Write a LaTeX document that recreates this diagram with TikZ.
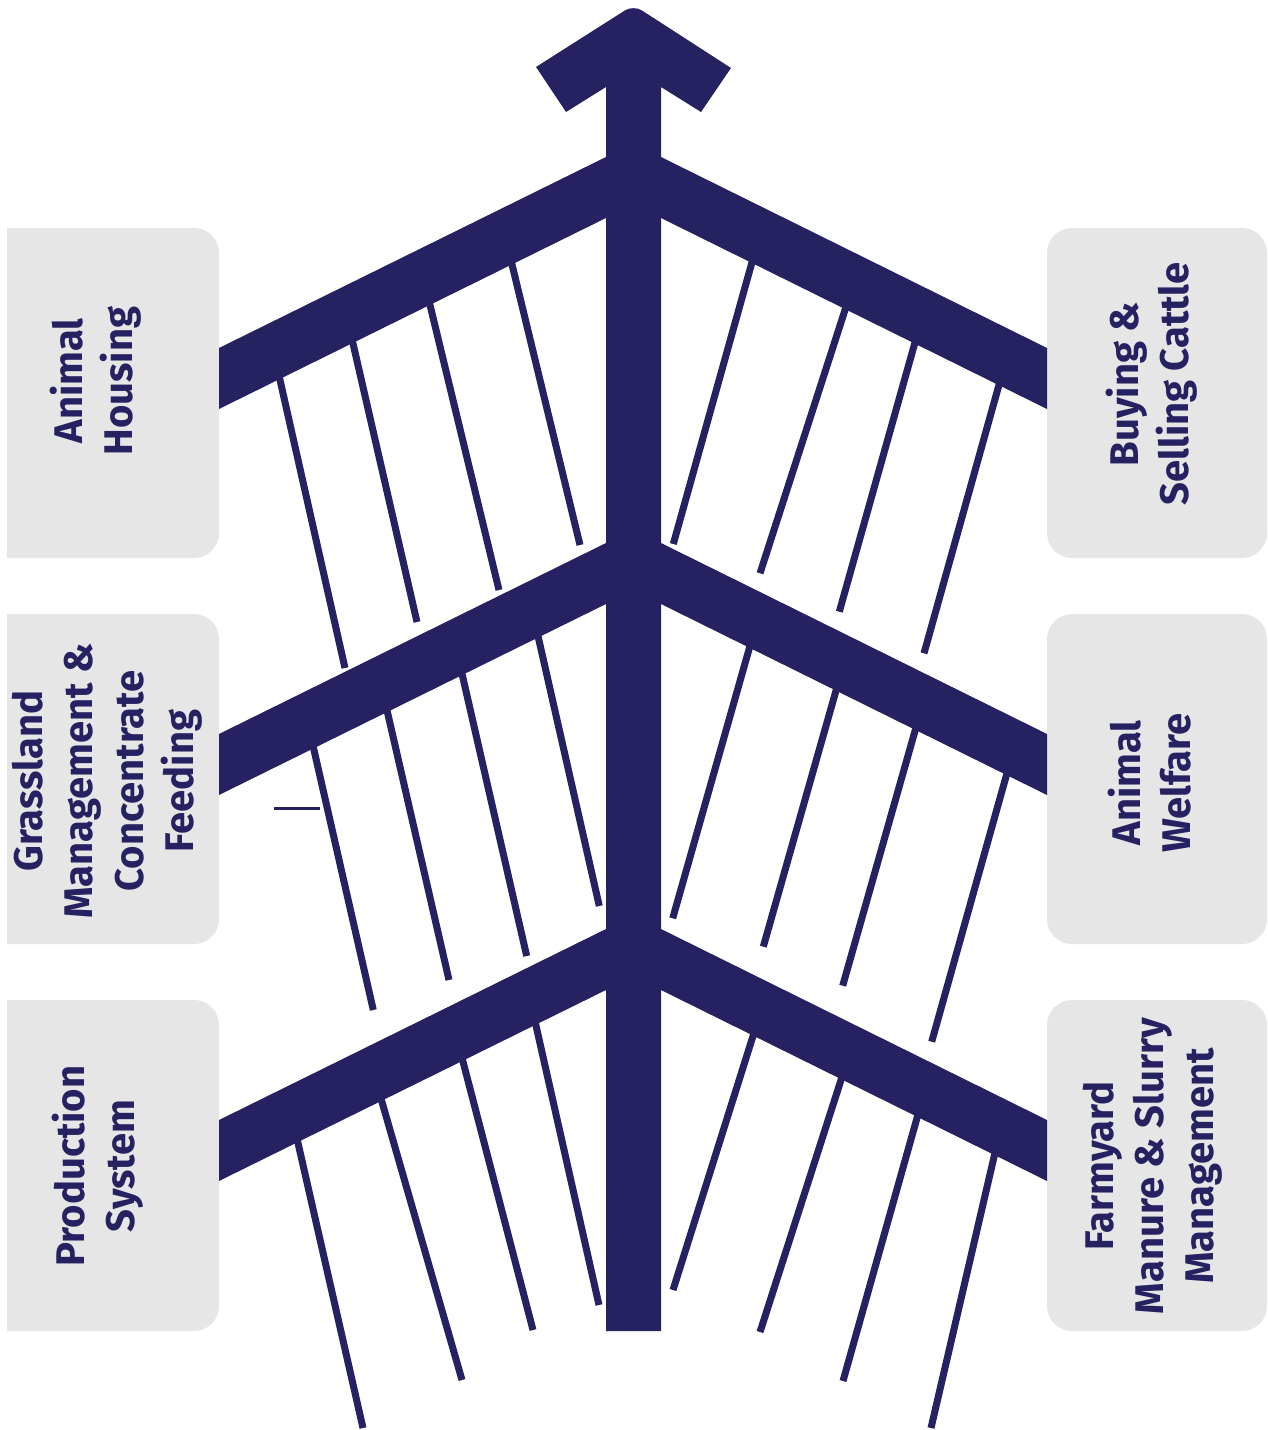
\documentclass[tikz,border=0pt]{standalone}
\usepackage{fontspec}
\setmainfont{Fira Sans}
\definecolor{fishnavy}{RGB}{38,34,98}
\definecolor{boxgray}{RGB}{230,230,230}
\begin{document}
\begin{tikzpicture}[x=1pt,y=-1pt,
  catbox/.style={fill=boxgray},
  rib/.style={draw=fishnavy,line width=7pt,shorten <=-12pt},
  band/.style={fill=fishnavy},
  lbl/.style={text=fishnavy,font=\fontsize{40}{50}\selectfont\bfseries,
              rotate=90,anchor=base,inner sep=0pt}]
\useasboundingbox (0,0) rectangle (1268,1430);
\fill[white] (0,0) rectangle (1268,1430);

% category boxes, left column (square outer edge)
\foreach \t/\b in {228/558,614/944,1000/1331}
  \fill[catbox] (7,\t) [rounded corners=25pt] -- (219,\t) -- (219,\b)
        [sharp corners] -- (7,\b) -- cycle;
% category boxes, right column
\foreach \t/\b in {228/558,614/944,1000/1331}
  \fill[catbox,rounded corners=25pt] (1047,\t) rectangle (1267,\b);

% fine ribs hanging from each branch
\foreach \sx/\sy/\ex/\ey in {
  280/380/345/668, 353/343.5/417/622, 430/305/499/590, 512/264.5/580/545,
  314/750/373.3/1010, 387.7/713.3/449/980, 462.3/675/526.7/956, 538.3/637.3/599.3/906,
  298/1143/363/1428, 382/1102/462/1380, 463/1061.6/533/1330, 536/1025.6/599/1305,
  751.7/263.3/673.3/544, 845/310/760/573.3, 914/346/839.3/611.7, 998.3/387.3/924/653.3,
  749.3/648.3/672.7/918.3, 835.7/691.7/763.3/946.7, 915/731/842.7/985.7, 1006/776.7/931.7/1041.7,
  753/1036/673/1290, 841/1080/760/1332, 917/1118/843/1381, 994/1157/931/1428}
  \draw[rib] (\sx,\sy) -- (\ex,\ey);

% short tick on the middle left rib
\draw[fishnavy,line width=2.7pt] (274,808.7) -- (320,808.7);

% main branches
\foreach \d in {0,386,772}{
  \fill[band] (219,348+\d) -- (606,157+\d) -- (606,218+\d) -- (219,409+\d) -- cycle;
  \fill[band] (1047,348+\d) -- (661,157+\d) -- (661,218+\d) -- (1047,409+\d) -- cycle;
}

% spine with arrowhead
\fill[fishnavy] (536,67) [rounded corners=10pt] -- (633.5,5) [sharp corners]
  -- (731,68) -- (701,112) -- (661,87) -- (661,1331) -- (606,1331)
  -- (606,87) -- (566,112) -- cycle;

% labels
\node[lbl] (ah1) at (82,381) {Animal};
\node[lbl] (ah2) at (132,381) {Housing};
\node[lbl] (gm1) at (42.7,781) {Grassland};
\node[lbl] (gm2) at (92.5,781) {Management \&};
\node[lbl] (gm3) at (143,781) {Concentrate};
\node[lbl] (gm4) at (193,781) {Feeding};
\node[lbl] (ps1) at (84,1166) {Production};
\node[lbl] (ps2) at (134,1166) {System};
\node[lbl] (bs1) at (1138,384) {Buying \&};
\node[lbl] (bs2) at (1188,384) {Selling Cattle};
\node[lbl] (aw1) at (1140,783) {Animal};
\node[lbl] (aw2) at (1190,783) {Welfare};
\node[lbl] (fm1) at (1113,1166) {Farmyard};
\node[lbl] (fm2) at (1163,1166) {Manure \& Slurry};
\node[lbl] (fm3) at (1213,1166) {Management};
\end{tikzpicture}
\end{document}
